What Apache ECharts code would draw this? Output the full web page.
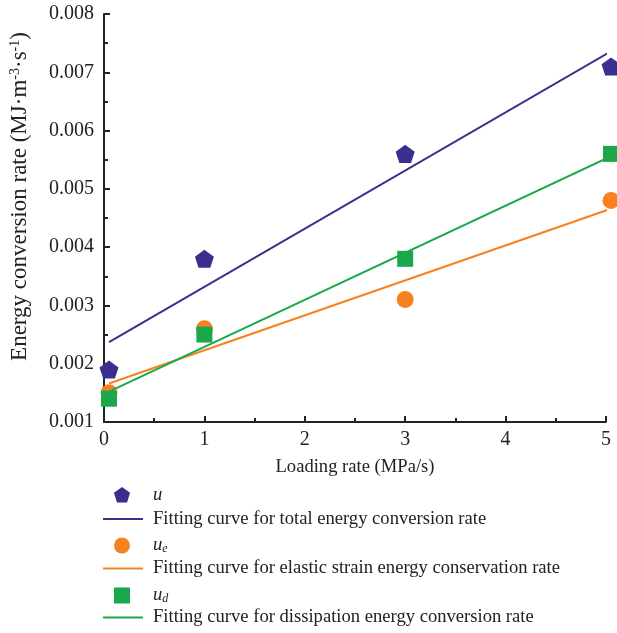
<!DOCTYPE html>
<html>
<head>
<meta charset="utf-8">
<script src="https://cdn.jsdelivr.net/npm/echarts@6/dist/echarts.min.js"></script>
<style>html,body{margin:0;padding:0;background:#fff}#c{width:617px;height:633px}</style>
</head>
<body>
<div id="c"></div>
<script>
var loadingRate = [0.05, 1, 3, 5.05];
var uTotal = [0.0019, 0.0038, 0.0056, 0.0071];
var uElastic = [0.0015, 0.0026, 0.0031, 0.0048];
var uDissip = [0.0014, 0.0025, 0.0038, 0.0056];
var fitX = [0.05, 5.05];
var fitTotal = [0.00237, 0.00736];
var fitElastic = [0.00166, 0.00466];
var fitDissip = [0.00152, 0.00556];
var xTicks = [0, 1, 2, 3, 4, 5];
var yTickLabels = ['0.001','0.002','0.003','0.004','0.005','0.006','0.007','0.008'];

var legendOrder = ['u', 'fitT', 'ue', 'fitE', 'ud', 'fitD'];
var legendText = {
  u: '{i|u}',
  fitT: 'Fitting curve for total energy conversion rate',
  ue: '{i|u}{sub|e}',
  fitE: 'Fitting curve for elastic strain energy conservation rate',
  ud: '{i|u}{sub|d}',
  fitD: 'Fitting curve for dissipation energy conversion rate'
};

function pairs(xs, ys) { return ys.map(function (v, i) { return [xs[i], v]; }); }

var FONT = 'Liberation Serif';
var cBlue = '#3b2f8e', cOrange = '#f5821f', cGreen = '#1ba84a';
var pentagon = 'path://M0,-10 L9.511,-3.09 L5.878,8.09 L-5.878,8.09 L-9.511,-3.09 Z';
var square = 'path://M0,0 L10,0 L10,10 L0,10 Z';

// legend icons in a 45x18 box (degenerate corner points fix the box size)
var BOX = ' M0,0 L0,0 M45,18 L45,18';
var legendIcons = {
  u: 'path://M19,0.5 L27.08,6.37 L24,15.88 L14,15.88 L10.92,6.37 Z' + BOX,
  ue: 'path://M11,9 A8,8 0 1,0 27,9 A8,8 0 1,0 11,9 Z' + BOX,
  ud: 'path://M11,1 L27,1 L27,17 L11,17 Z' + BOX,
  fitT: 'path://M0,8 L40,8 L40,10 L0,10 Z' + BOX,
  fitE: 'path://M0,8 L40,8 L40,10 L0,10 Z' + BOX,
  fitD: 'path://M0,8 L40,8 L40,10 L0,10 Z' + BOX
};
var legendRowCenters = [495, 518.5, 545, 568, 595, 617];

var legends = legendOrder.map(function (n, k) {
  return {
    orient: 'vertical',
    left: 103, top: legendRowCenters[k] - 9,
    itemWidth: 45, itemHeight: 18, padding: 0, symbolKeepAspect: true,
    data: [{ name: n, icon: legendIcons[n] }],
    formatter: function (name) { return legendText[name]; },
    textStyle: {
      fontFamily: FONT, fontSize: 18.6, color: '#222',
      rich: {
        i: { fontFamily: FONT, fontSize: 18.6, fontStyle: 'italic', color: '#222' },
        sub: { fontFamily: FONT, fontSize: 12, fontStyle: 'italic', color: '#222', verticalAlign: 'bottom' }
      }
    }
  };
});

var chart = echarts.init(document.getElementById('c'));
chart.setOption({
  animation: false,
  backgroundColor: '#fff',
  grid: { left: 103.5, right: 11, top: 14, bottom: 211, containLabel: false },
  legend: legends,
  xAxis: {
    type: 'value', min: 0, max: 5, interval: 1,
    name: 'Loading rate (MPa/s)', nameLocation: 'middle', nameGap: 36,
    nameTextStyle: { fontFamily: FONT, fontSize: 18.6, color: '#222' },
    axisLine: { show: true, lineStyle: { color: '#222', width: 2 } },
    axisTick: { show: true, inside: true, length: 6, lineStyle: { color: '#222', width: 2 } },
    minorTick: { show: true, splitNumber: 2, length: 4, lineStyle: { color: '#222', width: 2 } },
    axisLabel: { fontFamily: FONT, fontSize: 20, color: '#222', margin: 8,
      formatter: function (v) { return xTicks.indexOf(v) >= 0 ? String(v) : ''; } },
    splitLine: { show: false }
  },
  yAxis: {
    type: 'value', min: 0.001, max: 0.008, interval: 0.001,
    name: '{sp|}Energy conversion rate (MJ·m{sup|-3}·s{sup|-1})', nameLocation: 'middle', nameGap: 73,
    nameTextStyle: { fontFamily: FONT, fontSize: 23, color: '#222',
      rich: {
        sp: { width: 43 },
        sup: { fontFamily: FONT, fontSize: 14, color: '#222', verticalAlign: 'top', padding: [0, 0, 9, 0] }
      } },
    axisLine: { show: true, lineStyle: { color: '#222', width: 2 } },
    axisTick: { show: true, inside: true, length: 6, lineStyle: { color: '#222', width: 2 } },
    minorTick: { show: true, splitNumber: 2, length: 4, lineStyle: { color: '#222', width: 2 } },
    axisLabel: { fontFamily: FONT, fontSize: 20, color: '#222', margin: 10,
      formatter: function (v) { var s = v.toFixed(3); return yTickLabels.indexOf(s) >= 0 ? s : ''; } },
    splitLine: { show: false }
  },
  series: [
    { name: 'fitT', type: 'line', data: pairs(fitX, fitTotal), symbol: 'none', clip: false,
      lineStyle: { color: cBlue, width: 2 }, itemStyle: { color: cBlue } },
    { name: 'fitE', type: 'line', data: pairs(fitX, fitElastic), symbol: 'none', clip: false,
      lineStyle: { color: cOrange, width: 2 }, itemStyle: { color: cOrange } },
    { name: 'fitD', type: 'line', data: pairs(fitX, fitDissip), symbol: 'none', clip: false,
      lineStyle: { color: cGreen, width: 2 }, itemStyle: { color: cGreen } },
    { name: 'u', type: 'scatter', data: pairs(loadingRate, uTotal), symbol: pentagon, symbolSize: 19, clip: false,
      symbolKeepAspect: true, itemStyle: { color: cBlue, opacity: 1 } },
    { name: 'ue', type: 'scatter', data: pairs(loadingRate, uElastic), symbol: 'circle', symbolSize: 17, clip: false,
      itemStyle: { color: cOrange, opacity: 1 } },
    { name: 'ud', type: 'scatter', data: pairs(loadingRate, uDissip), symbol: square, symbolSize: 16, clip: false,
      symbolKeepAspect: true, itemStyle: { color: cGreen, opacity: 1 } }
  ]
});
</script>
</body>
</html>
